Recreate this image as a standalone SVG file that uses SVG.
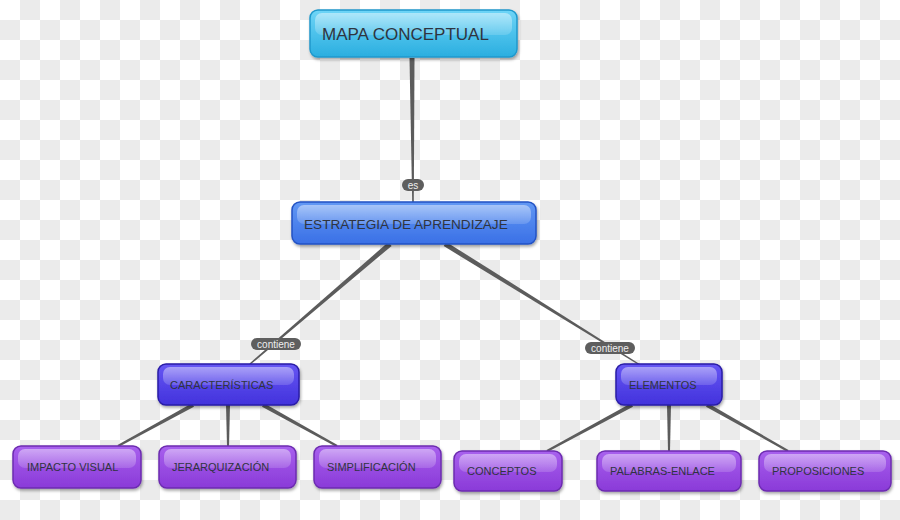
<svg xmlns="http://www.w3.org/2000/svg" width="900" height="520" viewBox="0 0 900 520">
<defs>
<pattern id="checker" x="0" y="0" width="40" height="40" patternUnits="userSpaceOnUse">
<rect width="40" height="40" fill="#ffffff"/>
<rect x="20" y="0" width="20" height="20" fill="#ebebeb"/>
<rect x="0" y="20" width="20" height="20" fill="#ebebeb"/>
</pattern>
<linearGradient id="gCyan" x1="0" y1="0" x2="0" y2="1">
<stop offset="0" stop-color="#6fd5f7"/><stop offset="1" stop-color="#2aaee0"/>
</linearGradient>
<linearGradient id="gBlue" x1="0" y1="0" x2="0" y2="1">
<stop offset="0" stop-color="#6298f4"/><stop offset="1" stop-color="#3a70e6"/>
</linearGradient>
<linearGradient id="gIndigo" x1="0" y1="0" x2="0" y2="1">
<stop offset="0" stop-color="#6656f4"/><stop offset="1" stop-color="#4232dc"/>
</linearGradient>
<linearGradient id="gPurple" x1="0" y1="0" x2="0" y2="1">
<stop offset="0" stop-color="#a860ee"/><stop offset="1" stop-color="#8a3ad8"/>
</linearGradient>
<linearGradient id="gGloss" x1="0" y1="0" x2="0" y2="1">
<stop offset="0" stop-color="#ffffff" stop-opacity="0.45"/><stop offset="1" stop-color="#ffffff" stop-opacity="0.15"/>
</linearGradient>
<filter id="shadow" x="-10%" y="-20%" width="120%" height="150%">
<feDropShadow dx="1" dy="2" stdDeviation="1.5" flood-color="#000" flood-opacity="0.35"/>
</filter>
</defs>
<style>
.body{stroke-width:1.5;filter:url(#shadow)}
.cyan .body{fill:url(#gCyan);stroke:#1f98cc}
.blue .body{fill:url(#gBlue);stroke:#2352c4}
.indigo .body{fill:url(#gIndigo);stroke:#2a1ea6}
.purple .body{fill:url(#gPurple);stroke:#6c2cb0}
.gloss{fill:url(#gGloss)}
.node text{font-family:"Liberation Sans",Arial,sans-serif;fill:#2f3440}
.t1{font-size:17px}
.t2{font-size:13.6px}
.t3{font-size:11px}
.conn polygon{fill:#5c5c5c}
.pill rect{fill:#5e5e5e}
.pill text{font-family:"Liberation Sans",Arial,sans-serif;font-size:10px;fill:#eeeeee;text-anchor:middle}
</style>
<rect width="900" height="520" fill="url(#checker)"/>

<g id="connectors" class="conn">
<polygon points="409.5,58 414.5,58 413.8,202 412.2,202"/>
<polygon points="391.6,245.9 388.4,242.1 249.5,363.4 250.5,364.6"/>
<polygon points="443.7,246.1 446.3,241.9 640.4,364.4 639.6,365.6"/>
<polygon points="194,406.8 192,403.2 117.5,445.1 118.5,446.9"/>
<polygon points="226,405 230,405 229,446 227,446"/>
<polygon points="262,406.8 264,403.2 337.5,445.1 336.5,446.9"/>
<polygon points="633,406.8 631,403.2 546.5,450.1 547.5,451.9"/>
<polygon points="667,405 671,405 670,451 668,451"/>
<polygon points="706,406.7 708,403.3 788.5,450.1 787.5,451.9"/>
<g id="lbl-es" class="pill"><rect x="402" y="179" width="22" height="12" rx="6"/><text x="413" y="188.5">es</text></g>
<g id="lbl-contiene-1" class="pill"><rect x="251" y="338" width="50" height="12" rx="6"/><text x="276" y="347.5">contiene</text></g>
<g id="lbl-contiene-2" class="pill"><rect x="585" y="342" width="50" height="12" rx="6"/><text x="610" y="351.5">contiene</text></g>
</g>

<g id="n-mapa" class="node cyan">
<rect class="body" x="310" y="10" width="207" height="47" rx="8"/>
<rect class="gloss" x="315" y="13" width="197" height="22" rx="7"/>
<text class="t1" x="322" y="40">MAPA CONCEPTUAL</text>
</g>
<g id="n-estrategia" class="node blue">
<rect class="body" x="292" y="202" width="244" height="42" rx="8"/>
<rect class="gloss" x="297" y="205" width="234" height="19" rx="7"/>
<text class="t2" x="304" y="229">ESTRATEGIA DE APRENDIZAJE</text>
</g>
<g id="n-caracteristicas" class="node indigo">
<rect class="body" x="158" y="364" width="141" height="41" rx="8"/>
<rect class="gloss" x="163" y="367" width="131" height="18" rx="7"/>
<text class="t3" x="170" y="389">CARACTERÍSTICAS</text>
</g>
<g id="n-elementos" class="node indigo">
<rect class="body" x="616" y="364" width="106" height="41" rx="8"/>
<rect class="gloss" x="621" y="367" width="96" height="18" rx="7"/>
<text class="t3" x="629" y="389">ELEMENTOS</text>
</g>
<g id="n-impacto" class="node purple">
<rect class="body" x="13" y="446" width="128" height="42" rx="8"/>
<rect class="gloss" x="18" y="449" width="118" height="19" rx="7"/>
<text class="t3" x="27" y="471">IMPACTO VISUAL</text>
</g>
<g id="n-jerarquizacion" class="node purple">
<rect class="body" x="159" y="446" width="137" height="42" rx="8"/>
<rect class="gloss" x="164" y="449" width="127" height="19" rx="7"/>
<text class="t3" x="172" y="471">JERARQUIZACIÓN</text>
</g>
<g id="n-simplificacion" class="node purple">
<rect class="body" x="314" y="446" width="127" height="42" rx="8"/>
<rect class="gloss" x="319" y="449" width="117" height="19" rx="7"/>
<text class="t3" x="327" y="471">SIMPLIFICACIÓN</text>
</g>
<g id="n-conceptos" class="node purple">
<rect class="body" x="454" y="451" width="108" height="40" rx="8"/>
<rect class="gloss" x="459" y="454" width="98" height="18" rx="7"/>
<text class="t3" x="467" y="475">CONCEPTOS</text>
</g>
<g id="n-palabras" class="node purple">
<rect class="body" x="597" y="451" width="144" height="40" rx="8"/>
<rect class="gloss" x="602" y="454" width="134" height="18" rx="7"/>
<text class="t3" x="610" y="475">PALABRAS-ENLACE</text>
</g>
<g id="n-proposiciones" class="node purple">
<rect class="body" x="759" y="451" width="132" height="40" rx="8"/>
<rect class="gloss" x="764" y="454" width="122" height="18" rx="7"/>
<text class="t3" x="772" y="475">PROPOSICIONES</text>
</g>
</svg>
